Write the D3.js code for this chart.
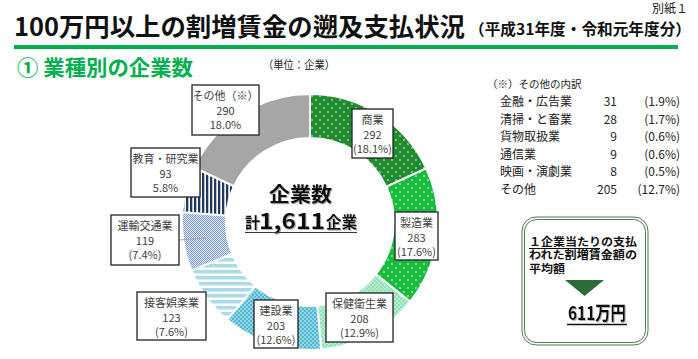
<!DOCTYPE html>
<html><head><meta charset="utf-8">
<script src="https://cdn.jsdelivr.net/npm/d3@7"></script>
<style>
html,body{margin:0;padding:0;background:#fff;}
svg{display:block;font-family:"Noto Sans CJK JP","Noto Sans",sans-serif;}
</style></head>
<body>
<svg id="chart" width="698" height="359"></svg>
<script>
// ---------- data ----------
const categories = ["商業","製造業","保健衛生業","建設業","接客娯楽業","運輸交通業","教育・研究業","その他（※）"];
const values = [292,283,208,203,123,119,93,290];
const pctLabels = ["(18.1%)","(17.6%)","(12.9%)","(12.6%)","(7.6%)","(7.4%)","5.8%","18.0%"];
const totalLabel = "1,611";
const otherNames = ["金融・広告業","清掃・と畜業","貨物取扱業","通信業","映画・演劇業","その他"];
const otherValues = [31,28,9,9,8,205];
const otherPcts = ["(1.9%)","(1.7%)","(0.6%)","(0.6%)","(0.5%)","(12.7%)"];
const averageLabel = "611万円";

// ---------- layout (not data) ----------
const patternIds = ["pCom","pMfg","pHealth","pCons","pEnt","pTrans","pEdu","pOther"];
const labelBoxes = [ // x, y, w, h
  [352,109,41,49],[395,212,43,48],[326,293,67,49],[254,300,44,48],
  [137,292,69,48],[111,215,68,50],[131,148,69,49],[192,85,67,50]
];

const svg = d3.select("#chart");
const defs = svg.append("defs");

const shadow = defs.append("filter").attr("id","shadow").attr("x","-10%").attr("y","-10%")
  .attr("width","130%").attr("height","140%");
shadow.append("feDropShadow").attr("dx",1).attr("dy",1).attr("stdDeviation",0.4)
  .attr("flood-color","#999").attr("flood-opacity",0.8);

function dotPattern(id, bg, size, r){
  const p = defs.append("pattern").attr("id",id).attr("patternUnits","userSpaceOnUse")
    .attr("width",size).attr("height",size);
  p.append("rect").attr("width",size).attr("height",size).attr("fill",bg);
  p.append("circle").attr("cx",size*0.25).attr("cy",size*0.25).attr("r",r).attr("fill","#fff");
  p.append("circle").attr("cx",size*0.75).attr("cy",size*0.75).attr("r",r).attr("fill","#fff");
}
dotPattern("pCom","#1e8b2d",8,0.8);
dotPattern("pMfg","#19bb3c",8,0.8);
dotPattern("pHealth","#8ee2b6",4,0.7);
dotPattern("pCons","#4fbad2",4,0.75);
(function(){
  const p = defs.append("pattern").attr("id","pEnt").attr("patternUnits","userSpaceOnUse").attr("width",6).attr("height",6);
  p.append("rect").attr("width",6).attr("height",6).attr("fill","#fff");
  p.append("rect").attr("width",6).attr("height",3.5).attr("fill","#a9dbe9");
})();
(function(){
  const p = defs.append("pattern").attr("id","pTrans").attr("patternUnits","userSpaceOnUse").attr("width",2).attr("height",2);
  p.append("rect").attr("width",2).attr("height",2).attr("fill","#dfe7f5");
  p.append("rect").attr("width",1).attr("height",1).attr("fill","#7c9bd4");
  p.append("rect").attr("x",1).attr("y",1).attr("width",1).attr("height",1).attr("fill","#7c9bd4");
})();
(function(){
  const p = defs.append("pattern").attr("id","pEdu").attr("patternUnits","userSpaceOnUse").attr("width",4).attr("height",4);
  p.append("rect").attr("width",4).attr("height",4).attr("fill","#fff");
  p.append("rect").attr("width",2.3).attr("height",4).attr("fill","#1f3864");
})();
(function(){
  const p = defs.append("pattern").attr("id","pOther").attr("patternUnits","userSpaceOnUse").attr("width",4).attr("height",4);
  p.append("rect").attr("width",4).attr("height",4).attr("fill","#a6a6a6");
})();

// ---------- title ----------
svg.append("text").attr("x",652).attr("y",13).attr("font-size",12).attr("fill","#222").text("別紙１");
svg.append("text").attr("x",14).attr("y",36).attr("font-size",25).attr("font-weight","bold")
  .attr("fill","#111").attr("textLength",451).attr("lengthAdjust","spacingAndGlyphs")
  .text("100万円以上の割増賃金の遡及支払状況");
svg.append("text").attr("x",469).attr("y",35).attr("font-size",15.5).attr("font-weight","bold")
  .attr("fill","#111").attr("textLength",222).attr("lengthAdjust","spacingAndGlyphs")
  .text("（平成31年度・令和元年度分）");
svg.append("rect").attr("x",14).attr("y",45).attr("width",664).attr("height",4).attr("fill","#00b050");

svg.append("text").attr("x",17).attr("y",75).attr("font-size",21).attr("font-weight","bold")
  .attr("fill","#00b050").attr("textLength",176).attr("lengthAdjust","spacingAndGlyphs")
  .text("① 業種別の企業数");
svg.append("text").attr("x",263).attr("y",69).attr("font-size",11).attr("fill","#222")
  .attr("textLength",72).attr("lengthAdjust","spacingAndGlyphs").text("（単位：企業）");

// ---------- donut ----------
const cx = 310, cy = 222, R = 128, r = 84;
const pie = d3.pie().sort(null).value(d => d.v);
const arcs = pie(values.map((v,i)=>({v, i})));
const arc = d3.arc().innerRadius(r).outerRadius(R);
svg.append("g").attr("transform",`translate(${cx},${cy})`)
  .selectAll("path").data(arcs).join("path")
  .attr("d",arc)
  .attr("fill",d=>`url(#${patternIds[d.data.i]})`)
  .attr("stroke","#fff").attr("stroke-width",2);

// leader line for 運輸交通業
svg.append("line").attr("x1",179).attr("y1",240).attr("x2",206).attr("y2",238)
  .attr("stroke","#a6a6a6").attr("stroke-width",1);

// labels
const lab = svg.append("g");
categories.forEach((c,i)=>{
  const [x,y,w,h] = labelBoxes[i];
  lab.append("rect").attr("x",x).attr("y",y).attr("width",w).attr("height",h)
    .attr("fill","#fff").attr("stroke","#222").attr("stroke-width",1.3);
  const t = lab.append("text").attr("text-anchor","middle").attr("font-size",11).attr("fill","#404040");
  [c, d3.format("d")(values[i]), pctLabels[i]].forEach((s,k)=>{
    t.append("tspan").attr("x",x+w/2).attr("y",y+15+k*14.5).text(s);
  });
});

// center text (one text element, two lines)
const ct = svg.append("text").attr("font-weight","bold").attr("fill","#111").attr("filter","url(#shadow)");
ct.append("tspan").attr("x",269).attr("y",202).attr("font-size",20)
  .attr("textLength",63).attr("lengthAdjust","spacingAndGlyphs").text("企業数");
ct.append("tspan").attr("x",245).attr("y",228).attr("font-size",15).text("計");
ct.append("tspan").attr("x",259).attr("y",228.5).attr("font-size",21.5)
  .attr("textLength",66).attr("lengthAdjust","spacingAndGlyphs").text(totalLabel);
ct.append("tspan").attr("x",326).attr("y",228).attr("font-size",15.5).text("企業");
svg.append("line").attr("x1",245).attr("x2",357).attr("y1",232.5).attr("y2",232.5)
  .attr("stroke","#333").attr("stroke-width",1.2);

// ---------- other breakdown table ----------
svg.append("text").attr("x",487).attr("y",88).attr("font-size",10.5).attr("fill","#222").text("（※）その他の内訳");
otherNames.forEach((n,i)=>{
  const y = 106 + i*17.5;
  svg.append("text").attr("x",500).attr("y",y).attr("font-size",12).attr("fill","#222").text(n);
  svg.append("text").attr("x",617).attr("y",y).attr("font-size",12).attr("fill","#222")
    .attr("text-anchor","end").text(otherValues[i]);
  svg.append("text").attr("x",680).attr("y",y).attr("font-size",12).attr("fill","#222")
    .attr("text-anchor","end").text(otherPcts[i]);
});

// ---------- average box ----------
svg.append("rect").attr("x",522).attr("y",217).attr("width",126).attr("height",128).attr("rx",14)
  .attr("fill","#fff").attr("stroke","#4e7a55").attr("stroke-width",1);
svg.append("rect").attr("x",524.5).attr("y",219.5).attr("width",121).attr("height",123).attr("rx",12)
  .attr("fill","none").attr("stroke","#4e7a55").attr("stroke-width",1);
const boxLines = ["１企業当たりの支払","われた割増賃金額の","平均額"];
const bt = svg.append("text").attr("font-size",11).attr("font-weight","bold").attr("fill","#111");
boxLines.forEach((s,i)=>{
  bt.append("tspan").attr("x",529).attr("y",246+i*13.3)
    .attr("textLength", i<2?108:36).attr("lengthAdjust","spacingAndGlyphs").text(s);
});
svg.append("line").attr("x1",529).attr("x2",600).attr("y1",248.5).attr("y2",248.5).attr("stroke","#111").attr("stroke-width",1);
svg.append("path").attr("d","M565,280 L604,280 L584.5,296 Z").attr("fill","#2e6b3a");
svg.append("text").attr("x",568).attr("y",320).attr("font-size",19).attr("font-weight","bold")
  .attr("fill","#111").attr("filter","url(#shadow)")
  .attr("textLength",58).attr("lengthAdjust","spacingAndGlyphs").text(averageLabel);
svg.append("line").attr("x1",567).attr("x2",627).attr("y1",324.5).attr("y2",324.5).attr("stroke","#111").attr("stroke-width",1.3);
</script>
</body></html>
